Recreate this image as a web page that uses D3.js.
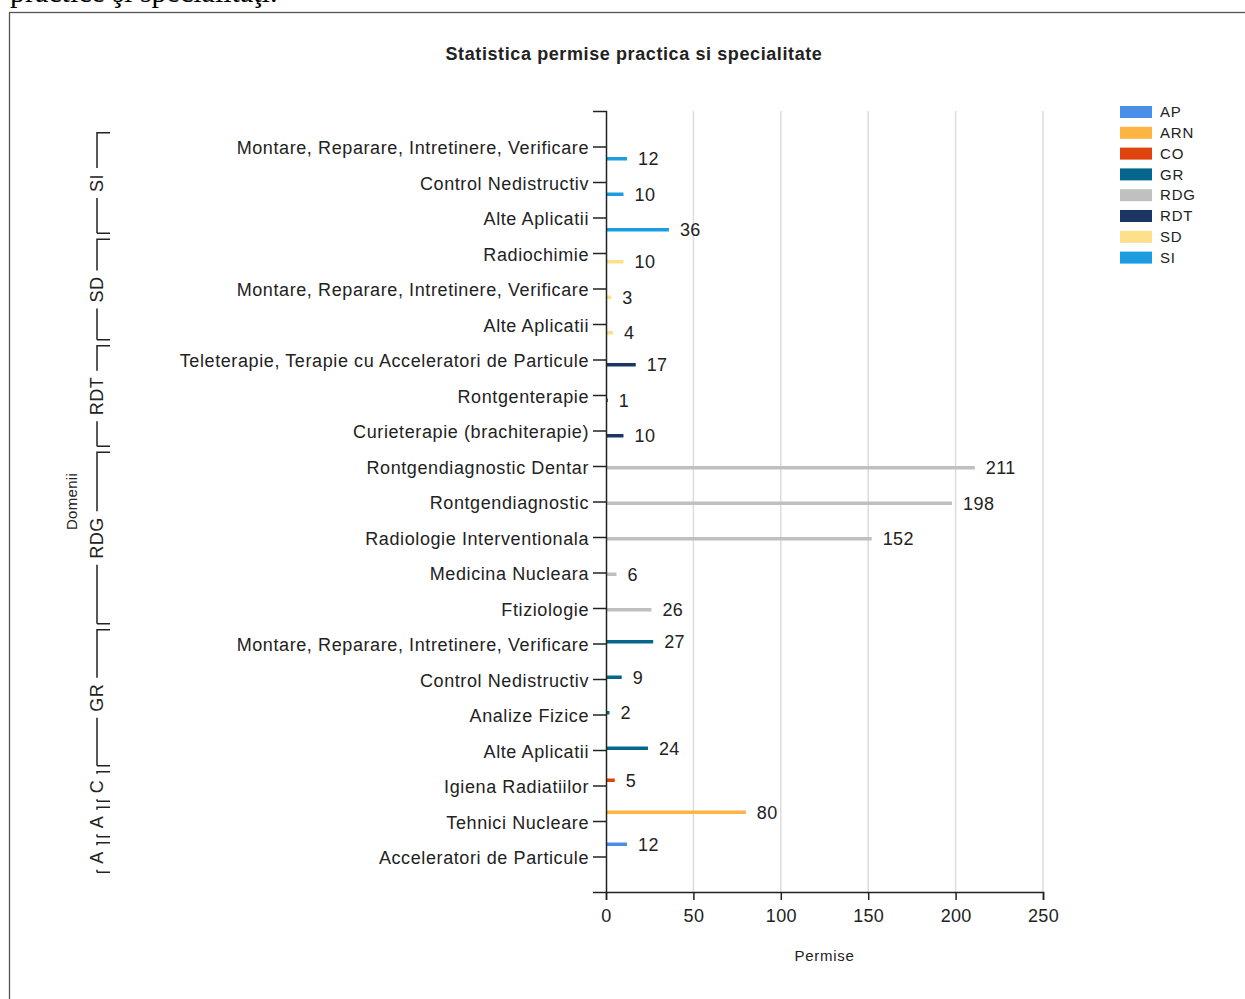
<!DOCTYPE html>
<html>
<head>
<meta charset="utf-8">
<script src="https://cdn.jsdelivr.net/npm/d3@7"></script>
<style>
  body { margin: 0; background: #fff; }
  text { font-family: "Liberation Sans", Arial, sans-serif; fill: #222; }
</style>
</head>
<body>
<div class="chart"></div>
<script>
// category labels, top to bottom
var categories = [
  "Montare, Reparare, Intretinere, Verificare", "Control Nedistructiv", "Alte Aplicatii",
  "Radiochimie", "Montare, Reparare, Intretinere, Verificare", "Alte Aplicatii",
  "Teleterapie, Terapie cu Acceleratori de Particule", "Rontgenterapie", "Curieterapie (brachiterapie)",
  "Rontgendiagnostic Dentar", "Rontgendiagnostic", "Radiologie Interventionala", "Medicina Nucleara", "Ftiziologie",
  "Montare, Reparare, Intretinere, Verificare", "Control Nedistructiv", "Analize Fizice", "Alte Aplicatii",
  "Igiena Radiatiilor",
  "Tehnici Nucleare",
  "Acceleratori de Particule"
];
// domain (series) of each category
var categorySeries = [
  "SI", "SI", "SI",
  "SD", "SD", "SD",
  "RDT", "RDT", "RDT",
  "RDG", "RDG", "RDG", "RDG", "RDG",
  "GR", "GR", "GR", "GR",
  "CO",
  "ARN",
  "AP"
];
var values = [12, 10, 36, 10, 3, 4, 17, 1, 10, 211, 198, 152, 6, 26, 27, 9, 2, 24, 5, 80, 12];

// legend series and colours
var series = ["AP", "ARN", "CO", "GR", "RDG", "RDT", "SD", "SI"];
var seriesColors = ["#4a8fe7", "#fdb441", "#e0440e", "#05668d", "#c0c0c0", "#1c3664", "#fee08b", "#1c9ddf"];

// group labels on the outer axis (as shown, truncated)
var groupKeys = ["SI", "SD", "RDT", "RDG", "GR", "CO", "ARN", "AP"];
var groupLabels = ["SI", "SD", "RDT", "RDG", "GR", "C", "A", "A"];

var xTicks = [0, 50, 100, 150, 200, 250];

function init(){

  var w = 1245;
  var h = 999;

  var top = 111, bottom = 892, left = 606, right = 1043;

  var svg = d3.select("div.chart")
              .append("svg")
              .attr("width", w)
              .attr("height", h);

  // text of the page above the frame, cut off
  svg.append("text")
     .attr("x", 10)
     .attr("y", 2)
     .style("font-family", "'Liberation Serif', 'Times New Roman', serif")
     .style("font-size", "30px")
     .style("fill", "#000")
     .text("practice şi specialitaţi.");

  // frame
  svg.append("rect")
     .attr("x", 9.5)
     .attr("y", 12.5)
     .attr("width", w)
     .attr("height", h)
     .attr("fill", "none")
     .attr("stroke", "#555")
     .attr("stroke-width", 1.3);

  // title
  svg.append("text")
     .attr("x", 634)
     .attr("y", 60)
     .attr("text-anchor", "middle")
     .style("font-size", "18px")
     .style("font-weight", "bold")
     .style("letter-spacing", "0.6px")
     .text("Statistica permise practica si specialitate");

  var xScale = d3.scaleLinear().domain([0, 250]).range([left, right]);

  var yScale = d3.scalePoint()
                 .domain(d3.range(categories.length))
                 .range([top, bottom])
                 .padding(1);

  var step = yScale.step();

  // inner band for each series
  var subScale = d3.scaleBand().domain(series).range([-14, 14]);

  // grid
  svg.append("g")
     .selectAll("line")
     .data(xTicks.slice(1))
     .enter()
     .append("line")
     .attr("x1", function(d){ return xScale(d); })
     .attr("x2", function(d){ return xScale(d); })
     .attr("y1", top)
     .attr("y2", bottom)
     .attr("stroke", "#dcdcdc")
     .attr("stroke-width", 1.5);

  // bars
  svg.append("g")
     .selectAll("rect")
     .data(values)
     .enter()
     .append("rect")
     .attr("x", xScale(0))
     .attr("y", function(d, i){ return yScale(i) + subScale(categorySeries[i]); })
     .attr("width", function(d){ return xScale(d) - xScale(0); })
     .attr("height", subScale.bandwidth())
     .attr("fill", function(d, i){ return seriesColors[series.indexOf(categorySeries[i])]; });

  // value labels
  svg.append("g")
     .selectAll("text")
     .data(values)
     .enter()
     .append("text")
     .attr("x", function(d){ return xScale(d) + 11; })
     .attr("y", function(d, i){ return yScale(i) + subScale(categorySeries[i]) + subScale.bandwidth() / 2; })
     .attr("dy", "0.35em")
     .style("font-size", "18px")
     .style("letter-spacing", "0.4px")
     .text(function(d){ return d; });

  // y axis
  var yAxis = d3.axisLeft(yScale)
                .tickSize(13)
                .tickPadding(4)
                .tickFormat(function(i){ return categories[i]; });

  var gy = svg.append("g")
     .attr("transform", "translate(" + left + ",0)")
     .call(yAxis);
  gy.selectAll("text")
    .style("font-size", "18px")
    .style("letter-spacing", "0.6px")
    .attr("dy", "0.4em")
    .attr("fill", "#222");
  gy.selectAll("path, line").attr("stroke", "#222").attr("stroke-width", 1.5);

  // x axis
  var xAxis = d3.axisBottom(xScale)
                .tickValues(xTicks)
                .tickSize(8)
                .tickSizeOuter(8)
                .tickPadding(9);

  var gx = svg.append("g")
     .attr("transform", "translate(0," + bottom + ")")
     .call(xAxis);
  gx.selectAll("text")
    .style("font-size", "18px")
    .style("letter-spacing", "0.3px")
    .attr("fill", "#222");
  gx.selectAll("path, line").attr("stroke", "#222").attr("stroke-width", 1.5);

  // axis titles
  svg.append("text")
     .attr("x", (left + right) / 2)
     .attr("y", 961)
     .attr("text-anchor", "middle")
     .style("font-size", "15px")
     .style("letter-spacing", "0.7px")
     .text("Permise");

  svg.append("text")
     .attr("transform", "translate(77," + ((top + bottom) / 2) + ") rotate(-90)")
     .attr("text-anchor", "middle")
     .style("font-size", "15px")
     .style("letter-spacing", "0.3px")
     .text("Domenii");

  // outer group axis (brackets)
  var bx = 97, bx2 = 110;
  var gBr = svg.append("g");
  groupKeys.forEach(function(key, gi){
    var idx = d3.range(categories.length).filter(function(i){ return categorySeries[i] == key; });
    var y0 = yScale(idx[0]) - step / 2 + 4;
    var y1 = yScale(idx[idx.length - 1]) + step / 2 - 2;
    var mid = (y0 + y1) / 2;

    var label = gBr.append("text")
       .attr("transform", "translate(" + (bx + 6) + "," + mid + ") rotate(-90)")
       .attr("text-anchor", "middle")
       .style("font-size", "18px")
       .style("letter-spacing", "0.5px")
       .text(groupLabels[gi]);
    var half = label.node().getComputedTextLength() / 2 + 6;

    var path = "M" + bx2 + "," + y0 + "H" + bx;
    if (mid - half > y0) path += "V" + (mid - half);
    path += "M" + bx + "," + y1;
    if (mid + half < y1) path += "V" + (mid + half);
    path += "M" + bx + "," + y1 + "H" + bx2;

    gBr.append("path")
       .attr("d", path)
       .attr("fill", "none")
       .attr("stroke", "#222")
       .attr("stroke-width", 1.5);
  });

  // legend
  var legend = svg.append("g")
     .selectAll("g")
     .data(series)
     .enter()
     .append("g")
     .attr("transform", function(d, i){ return "translate(1120," + (112 + i * 20.8) + ")"; });

  legend.append("rect")
     .attr("x", 0)
     .attr("y", -6)
     .attr("width", 32)
     .attr("height", 12)
     .attr("fill", function(d, i){ return seriesColors[i]; });

  legend.append("text")
     .attr("x", 40)
     .attr("dy", "0.35em")
     .style("font-size", "15px")
     .style("letter-spacing", "0.8px")
     .text(function(d){ return d; });
}

window.onload = init;
</script>
</body>
</html>
